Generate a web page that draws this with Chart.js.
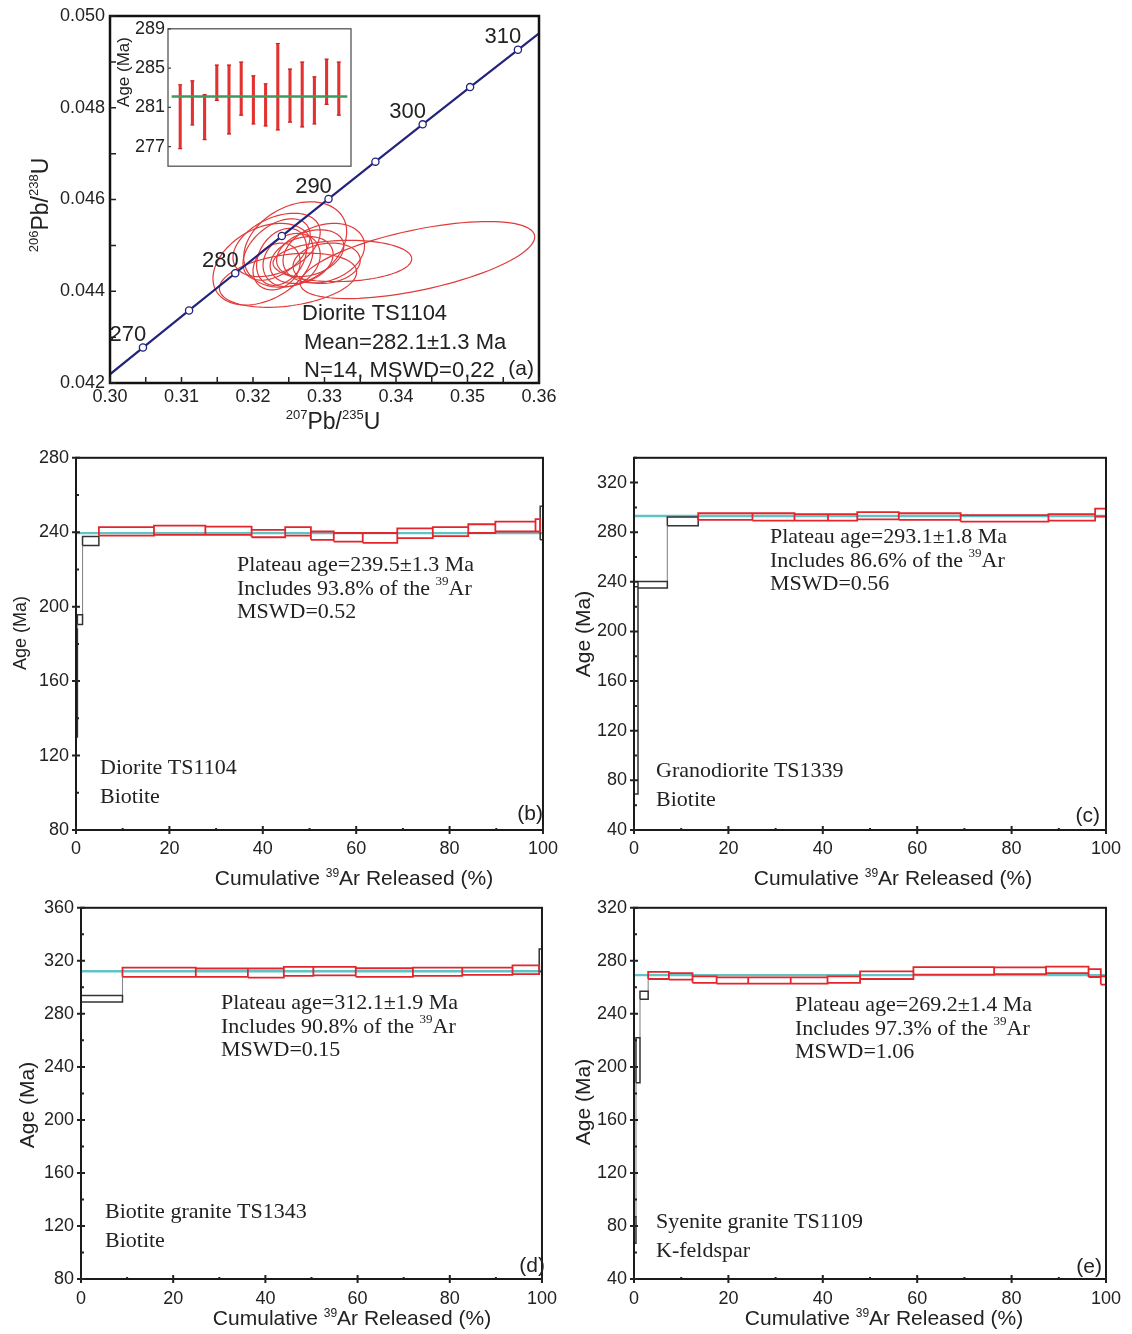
<!DOCTYPE html>
<html>
<head>
<meta charset="utf-8">
<script src="https://cdn.jsdelivr.net/npm/chart.js@4.4.1/dist/chart.umd.min.js"></script>
<style>
  body { margin: 0; background: #fff; width: 1132px; height: 1334px; position: relative; overflow: hidden; }
  canvas { position: absolute; }
</style>
</head>
<body>
<canvas id="pa" width="560" height="440" style="left:0;top:0"></canvas>
<canvas id="pi" width="260" height="165" style="left:100px;top:15px"></canvas>
<canvas id="pb" width="566" height="450" style="left:0;top:440px"></canvas>
<canvas id="pc" width="566" height="450" style="left:566px;top:440px"></canvas>
<canvas id="pd" width="566" height="444" style="left:0;top:890px"></canvas>
<canvas id="pe" width="566" height="444" style="left:566px;top:890px"></canvas>
<script>
// ── (a) concordia, ticks every 5 Ma ──
const concAges = [265, 270, 275, 280, 285, 290, 295, 300, 305, 310, 315];
const concX = [0.29821, 0.30461, 0.31106, 0.31752, 0.32403, 0.33056, 0.33712, 0.34373, 0.35036, 0.35705, 0.36375];
const concY = [0.041965, 0.042773, 0.043582, 0.044392, 0.045203, 0.046013, 0.046825, 0.047638, 0.048450, 0.049264, 0.050078];
const concLabelAges = [270, 280, 290, 300, 310];

// ── (a) zircon error ellipses ──
const ellX   = [0.3259, 0.3214, 0.3249, 0.3233, 0.3240, 0.3254, 0.3268, 0.3280, 0.3299, 0.3233, 0.3303, 0.3325, 0.3430, 0.3233];
const ellY   = [0.04502, 0.04459, 0.04424, 0.04491, 0.04475, 0.04468, 0.04468, 0.04483, 0.04483, 0.04454, 0.04461, 0.04466, 0.04468, 0.04501];
const ellSx  = [0.0072, 0.0070, 0.0096, 0.0047, 0.0035, 0.0040, 0.0044, 0.0047, 0.0057, 0.0033, 0.0047, 0.0097, 0.0164, 0.0061];
const ellSy  = [0.00093, 0.00089, 0.00059, 0.00067, 0.00062, 0.00058, 0.00051, 0.00051, 0.00065, 0.00051, 0.00044, 0.00045, 0.00084, 0.00069];
const ellRho = [0.30, 0.35, 0.30, 0.45, 0.30, 0.20, 0.25, 0.30, 0.25, 0.20, 0.15, 0.10, 0.60, 0.40];

// ── (a) inset: weighted mean ──
const spotNo = [1, 2, 3, 4, 5, 6, 7, 8, 9, 10, 11, 12, 13, 14];
const spotLo = [276.8, 279.2, 277.7, 281.7, 278.3, 280.2, 279.3, 279.1, 278.7, 279.5, 279.0, 279.3, 281.3, 280.2];
const spotHi = [283.3, 283.7, 282.3, 285.3, 285.3, 285.6, 284.2, 283.4, 287.5, 284.9, 285.6, 284.1, 285.9, 285.6];
const meanAge = 282.1;

// ── (b) Diorite TS1104 biotite ──
const bCum = [0, 0.3, 1.4, 4.9, 16.7, 27.7, 37.6, 44.8, 50.3, 55.2, 61.4, 68.8, 76.4, 84.0, 89.8, 98.4, 99.4, 100];
const bLo  = [130, 190.4, 232.9, 238.2, 238.6, 238.6, 237.3, 238.2, 235.9, 235.0, 234.3, 236.8, 237.9, 239.6, 240.4, 240.4, 236];
const bHi  = [188, 195.7, 237.7, 242.7, 243.6, 243.0, 241.3, 242.7, 240.4, 239.6, 239.6, 242.1, 242.7, 244.3, 245.7, 247.1, 254];
const bPlateau = [3, 15];
const bAge = 239.5;

// ── (c) Granodiorite TS1339 biotite ──
const cCum = [0, 0.85, 7.06, 13.6, 25.1, 34.0, 41.1, 47.3, 56.1, 69.2, 87.8, 97.7, 100];
const cLo  = [69, 235.0, 285.2, 289.9, 289.4, 289.3, 289.3, 290.4, 289.9, 288.5, 289.3, 292.7];
const cHi  = [236, 240.3, 292.3, 295.3, 295.3, 294.6, 294.6, 296.2, 295.3, 293.8, 294.6, 299.0];
const cPlateau = [3, 11];
const cAge = 293.1;

// ── (d) Biotite granite TS1343 biotite ──
const dCum = [0, 9.0, 24.9, 36.2, 44.0, 50.4, 59.6, 72.0, 82.7, 93.6, 99.4, 100];
const dLo  = [288.9, 307.9, 307.9, 307.4, 308.7, 309.1, 307.9, 308.7, 309.4, 310.0, 312];
const dHi  = [293.8, 314.9, 314.2, 314.2, 315.4, 315.4, 314.4, 314.9, 314.9, 316.6, 329];
const dPlateau = [1, 9];
const dAge = 312.1;

// ── (e) Syenite granite TS1109 K-feldspar ──
const eCum = [0, 0.42, 1.27, 3.0, 7.4, 12.4, 17.5, 24.2, 33.2, 41.0, 47.9, 59.2, 76.3, 87.3, 96.3, 98.9, 100];
const eLo  = [67, 188, 251.1, 266.3, 265.8, 263.4, 262.8, 262.8, 262.8, 263.4, 266.3, 269.6, 270.0, 270.8, 267.8, 262.1];
const eHi  = [87, 222, 257.0, 271.6, 270.8, 268.3, 267.5, 267.5, 267.5, 268.3, 272.0, 275.3, 275.0, 275.7, 273.8, 268.3];
const ePlateau = [3, 15];
const eAge = 269.2;

const SANS = '"Liberation Sans", Arial, sans-serif';
const SERIF = '"Liberation Serif", "Times New Roman", serif';
const INK = '#222';
const RED = '#e2262c';

// text with ^superscript parts, drawn on the chart canvas
function drawText(ctx, t) {
  const parts = Array.isArray(t.text) ? t.text : [t.text];
  const size = t.size || 22;
  const sup = Math.round(size * 0.58);
  const fam = t.serif ? SERIF : SANS;
  ctx.save();
  ctx.translate(t.x, t.y);
  if (t.rotate) ctx.rotate(-Math.PI / 2);
  let w = 0;
  const segs = parts.map(p => {
    const s = p.startsWith('^');
    const str = s ? p.slice(1) : p;
    ctx.font = (s ? sup : size) + 'px ' + fam;
    const m = ctx.measureText(str).width;
    w += m;
    return { str, s, m };
  });
  let x = t.align === 'center' ? -w / 2 : t.align === 'right' ? -w : 0;
  ctx.fillStyle = t.color || INK;
  ctx.textAlign = 'left';
  ctx.textBaseline = 'alphabetic';
  const base = size * 0.35;
  segs.forEach(g => {
    ctx.font = (g.s ? sup : size) + 'px ' + fam;
    ctx.fillText(g.str, x, g.s ? base - size * 0.42 : base);
    x += g.m;
  });
  ctx.restore();
}

function drawTicks(chart, o) {
  const { ctx, chartArea: a, scales } = chart;
  ctx.strokeStyle = o.color || INK;
  ctx.lineWidth = o.width || 1.5;
  ctx.beginPath();
  if (o.x) scales.x.ticks.forEach(t => {
    const p = scales.x.getPixelForValue(t.value);
    const major = t.label !== '';
    const len = major ? o.x.major : o.x.minor;
    const out = o.x.cross && major ? len : 0;
    ctx.moveTo(p, a.bottom + out);
    ctx.lineTo(p, a.bottom - len);
  });
  if (o.y) scales.y.ticks.forEach(t => {
    const p = scales.y.getPixelForValue(t.value);
    const major = t.label !== '';
    const len = major ? o.y.major : o.y.minor;
    const out = o.y.cross && major ? len : 0;
    ctx.moveTo(a.left - out, p);
    ctx.lineTo(a.left + len, p);
  });
  ctx.stroke();
}

function decor(cfg) {
  return {
    id: 'decor',
    beforeDatasetsDraw(chart) {
      if (cfg.under) cfg.under(chart);
    },
    afterDraw(chart) {
      const { ctx, chartArea: a } = chart;
      ctx.save();
      if (cfg.frame) {
        ctx.strokeStyle = cfg.frame.color;
        ctx.lineWidth = cfg.frame.width;
        ctx.strokeRect(a.left, a.top, a.width, a.height);
      }
      if (cfg.ticks) drawTicks(chart, cfg.ticks);
      if (cfg.after) cfg.after(chart);
      (cfg.texts || []).forEach(t => drawText(ctx, t));
      ctx.restore();
    }
  };
}

const base = { responsive: false, animation: false, events: [] };
const noPlugins = { legend: { display: false }, tooltip: { enabled: false } };
const noGrid = { display: false, drawTicks: false };
const tickFont = { family: SANS, size: 18 };

// ═══ (a) concordia diagram ═══
new Chart(document.getElementById('pa'), {
  type: 'line',
  data: {
    datasets: [{
      data: concX.map((x, i) => ({ x, y: concY[i] })),
      borderColor: '#23237d',
      borderWidth: 2.2,
      tension: 0,
      pointRadius: 3.6,
      pointBackgroundColor: '#fff',
      pointBorderColor: '#23237d',
      pointBorderWidth: 1.3,
    }],
  },
  options: {
    ...base,
    layout: { padding: { left: 0, right: 21, top: 16, bottom: 0 } },
    plugins: noPlugins,
    scales: {
      x: {
        type: 'linear', min: 0.30, max: 0.36,
        grid: noGrid, border: { display: false },
        ticks: {
          stepSize: 0.005, autoSkip: false, maxRotation: 0, padding: 3, color: INK, font: tickFont,
          callback: v => { const k = Math.round(v * 1000); return k % 10 === 0 ? (k / 1000).toFixed(2) : ''; },
        },
        afterFit: s => { s.height = 57; },
      },
      y: {
        type: 'linear', min: 0.042, max: 0.050,
        grid: noGrid, border: { display: false },
        ticks: {
          stepSize: 0.001, autoSkip: false, padding: 5, color: INK, font: tickFont,
          callback: v => { const k = Math.round(v * 1000); return k % 2 === 0 ? (k / 1000).toFixed(3) : ''; },
        },
        afterFit: s => { s.width = 110; },
      },
    },
  },
  plugins: [decor({
    frame: { color: '#111', width: 2.5 },
    ticks: { width: 1.5, x: { major: 6, minor: 6 }, y: { major: 6, minor: 6 } },
    under(chart) {
      const { ctx, chartArea: a, scales: { x, y } } = chart;
      ctx.save();
      ctx.beginPath();
      ctx.rect(a.left, a.top, a.width, a.height);
      ctx.clip();
      ctx.strokeStyle = '#e03a3a';
      ctx.lineWidth = 1.2;
      ellX.forEach((cx, i) => {
        const r = ellRho[i], q = Math.sqrt(1 - r * r);
        ctx.beginPath();
        for (let k = 0; k <= 96; k++) {
          const t = k / 96 * 2 * Math.PI;
          const vx = cx + ellSx[i] * Math.cos(t);
          const vy = ellY[i] + ellSy[i] * (r * Math.cos(t) + q * Math.sin(t));
          const px = x.getPixelForValue(vx), py = y.getPixelForValue(vy);
          if (k === 0) ctx.moveTo(px, py); else ctx.lineTo(px, py);
        }
        ctx.stroke();
      });
      ctx.restore();
    },
    after(chart) {
      const { ctx, scales: { x, y } } = chart;
      concLabelAges.forEach(age => {
        const i = concAges.indexOf(age);
        drawText(ctx, {
          text: String(age), size: 22, align: 'center',
          x: x.getPixelForValue(concX[i]) - 15, y: y.getPixelForValue(concY[i]) - 14,
        });
      });
    },
    texts: [
      { text: ['^206', 'Pb/', '^238', 'U'], x: 40, y: 205, size: 23, align: 'center', rotate: true },
      { text: ['^207', 'Pb/', '^235', 'U'], x: 333, y: 421, size: 23, align: 'center' },
      { text: 'Diorite TS1104', x: 302, y: 312, size: 22 },
      { text: 'Mean=282.1±1.3 Ma', x: 304, y: 341, size: 22 },
      { text: 'N=14, MSWD=0.22', x: 304, y: 369, size: 22 },
      { text: '(a)', x: 534, y: 368, size: 21, align: 'right' },
    ],
  })],
});

// ═══ (a) inset: spot ages and weighted mean ═══
new Chart(document.getElementById('pi'), {
  type: 'bar',
  data: {
    datasets: [{
      type: 'line',
      data: [{ x: spotNo[0] - 0.7, y: meanAge }, { x: spotNo[spotNo.length - 1] + 0.7, y: meanAge }],
      borderColor: '#3a9b5a',
      borderWidth: 2.5,
      pointRadius: 0,
      order: 0,
    }, {
      type: 'bar',
      data: spotNo.map((n, i) => ({ x: n, y: [spotLo[i], spotHi[i]] })),
      backgroundColor: '#e2312f',
      barThickness: 2.4,
      order: 1,
    }],
  },
  options: {
    ...base,
    layout: { padding: { left: 0, right: 9, top: 13, bottom: 11 } },
    plugins: noPlugins,
    scales: {
      x: { type: 'linear', min: 0, max: 15, offset: false, display: false },
      y: {
        min: 275, max: 289,
        grid: noGrid, border: { display: false },
        ticks: {
          stepSize: 1, autoSkip: false, padding: 3, color: INK, font: { family: SANS, size: 18 },
          callback: v => ((v - 1) % 4 === 0 ? String(v) : ''),
        },
        afterFit: s => { s.width = 68; },
      },
    },
  },
  plugins: [decor({
    frame: { color: '#555', width: 1.3 },
    ticks: { width: 1.2, color: '#444', y: { major: 3, minor: 0 } },
    after(chart) {
      // small caps on the error bars
      const { ctx, scales: { x, y } } = chart;
      ctx.strokeStyle = '#c8242a';
      ctx.lineWidth = 1.2;
      ctx.beginPath();
      spotNo.forEach((n, i) => {
        const px = x.getPixelForValue(n);
        [spotLo[i], spotHi[i]].forEach(v => {
          const py = y.getPixelForValue(v);
          ctx.moveTo(px - 2, py);
          ctx.lineTo(px + 2, py);
        });
      });
      ctx.stroke();
    },
    texts: [{ text: 'Age (Ma)', x: 23, y: 57, size: 17, align: 'center', rotate: true }],
  })],
});

// ═══ (b)–(e) Ar–Ar age spectra ═══
function boxes(cum, lo, hi, pl, inPlateau) {
  const pts = [];
  lo.forEach((l, i) => {
    if ((i >= pl[0] && i <= pl[1]) !== inPlateau) return;
    const x0 = cum[i], x1 = cum[i + 1];
    pts.push({ x: x0, y: l }, { x: x1, y: l }, { x: x1, y: hi[i] }, { x: x0, y: hi[i] }, { x: x0, y: l }, { x: x0, y: null });
  });
  return pts;
}

function links(cum, lo, hi) {
  const pts = [];
  for (let i = 0; i < lo.length - 1; i++) {
    const x = cum[i + 1];
    if (hi[i] < lo[i + 1]) pts.push({ x, y: hi[i] }, { x, y: lo[i + 1] }, { x, y: null });
    else if (lo[i] > hi[i + 1]) pts.push({ x, y: hi[i + 1] }, { x, y: lo[i] }, { x, y: null });
  }
  return pts;
}

function spectrum(id, cum, lo, hi, pl, age, yr, lay, texts) {
  const line = { tension: 0, pointRadius: 0, spanGaps: false, fill: false };
  new Chart(document.getElementById(id), {
    type: 'line',
    data: {
      datasets: [
        { ...line, data: boxes(cum, lo, hi, pl, true), borderColor: RED, borderWidth: 1.8, order: 0 },
        { ...line, data: boxes(cum, lo, hi, pl, false), borderColor: '#333', borderWidth: 1.5, order: 1 },
        { ...line, data: links(cum, lo, hi), borderColor: '#888', borderWidth: 1.1, order: 2 },
        { ...line, data: [{ x: cum[0], y: age }, { x: cum[cum.length - 1], y: age }], borderColor: '#62c3c5', borderWidth: 2.4, order: 3 },
      ],
    },
    options: {
      ...base,
      layout: { padding: { left: 0, right: lay.right, top: lay.top, bottom: 0 } },
      plugins: noPlugins,
      scales: {
        x: {
          type: 'linear', min: 0, max: 100,
          grid: noGrid, border: { display: false },
          ticks: {
            stepSize: 10, autoSkip: false, maxRotation: 0, padding: lay.xpad, color: INK, font: tickFont,
            callback: v => (Math.round(v) % 20 === 0 ? String(Math.round(v)) : ''),
          },
          afterFit: s => { s.height = lay.xh; },
        },
        y: {
          type: 'linear', min: yr[0], max: yr[1],
          grid: noGrid, border: { display: false },
          ticks: {
            stepSize: 20, autoSkip: false, padding: 7, color: INK, font: tickFont,
            callback: v => (Math.round(v) % 40 === 0 ? String(Math.round(v)) : ''),
          },
          afterFit: s => { s.width = lay.yw; },
        },
      },
    },
    plugins: [decor({
      frame: { color: '#1a1a1a', width: 2 },
      ticks: { width: 2, x: { major: 4, minor: 2, cross: true }, y: { major: 4, minor: 3, cross: true } },
      texts,
    })],
  });
}

function spectrumTexts(o) {
  const s = 22;
  return [
    { text: o.plateau, x: o.px, y: o.py, size: s, serif: true },
    { text: ['Includes ' + o.pct + '% of the ', '^39', 'Ar'], x: o.px, y: o.py + 24, size: s, serif: true },
    { text: 'MSWD=' + o.mswd, x: o.px, y: o.py + 47, size: s, serif: true },
    { text: o.rock, x: o.sx, y: o.sy, size: s, serif: true },
    { text: o.mineral, x: o.sx, y: o.sy + 29, size: s, serif: true },
    { text: o.tag, x: o.tx, y: o.ty, size: 21, align: 'right' },
    { text: 'Age (Ma)', x: o.ax, y: o.ay, size: o.as, align: 'center', rotate: true },
    { text: ['Cumulative ', '^39', 'Ar Released (%)'], x: o.cx, y: o.cy, size: 21, align: 'center' },
  ];
}

spectrum('pb', bCum, bLo, bHi, bPlateau, bAge, [80, 280], { right: 19, top: 15, xh: 60, yw: 76, xpad: 8 },
  spectrumTexts({ plateau: 'Plateau age=239.5±1.3 Ma', pct: '93.8', mswd: '0.52', px: 237, py: 123,
    rock: 'Diorite TS1104', mineral: 'Biotite', sx: 100, sy: 326, tag: '(b)', tx: 543, ty: 373,
    ax: 20, ay: 193, as: 18, cx: 354, cy: 438 }));

spectrum('pc', cCum, cLo, cHi, cPlateau, cAge, [40, 340], { right: 26, top: 14, xh: 60, yw: 68, xpad: 8 },
  spectrumTexts({ plateau: 'Plateau age=293.1±1.8 Ma', pct: '86.6', mswd: '0.56', px: 204, py: 95,
    rock: 'Granodiorite TS1339', mineral: 'Biotite', sx: 90, sy: 329, tag: '(c)', tx: 534, ty: 375,
    ax: 17, ay: 194, as: 21, cx: 327, cy: 438 }));

spectrum('pd', dCum, dLo, dHi, dPlateau, dAge, [80, 360], { right: 14, top: 14, xh: 55, yw: 81, xpad: 9 },
  spectrumTexts({ plateau: 'Plateau age=312.1±1.9 Ma', pct: '90.8', mswd: '0.15', px: 221, py: 111,
    rock: 'Biotite granite TS1343', mineral: 'Biotite', sx: 105, sy: 320, tag: '(d)', tx: 545, ty: 375,
    ax: 27, ay: 215, as: 21, cx: 352, cy: 428 }));

spectrum('pe', eCum, eLo, eHi, ePlateau, eAge, [40, 320], { right: 26, top: 14, xh: 55, yw: 68, xpad: 9 },
  spectrumTexts({ plateau: 'Plateau age=269.2±1.4 Ma', pct: '97.3', mswd: '1.06', px: 229, py: 113,
    rock: 'Syenite granite TS1109', mineral: 'K-feldspar', sx: 90, sy: 330, tag: '(e)', tx: 536, ty: 376,
    ax: 17, ay: 212, as: 21, cx: 318, cy: 428 }));
</script>
</body>
</html>
